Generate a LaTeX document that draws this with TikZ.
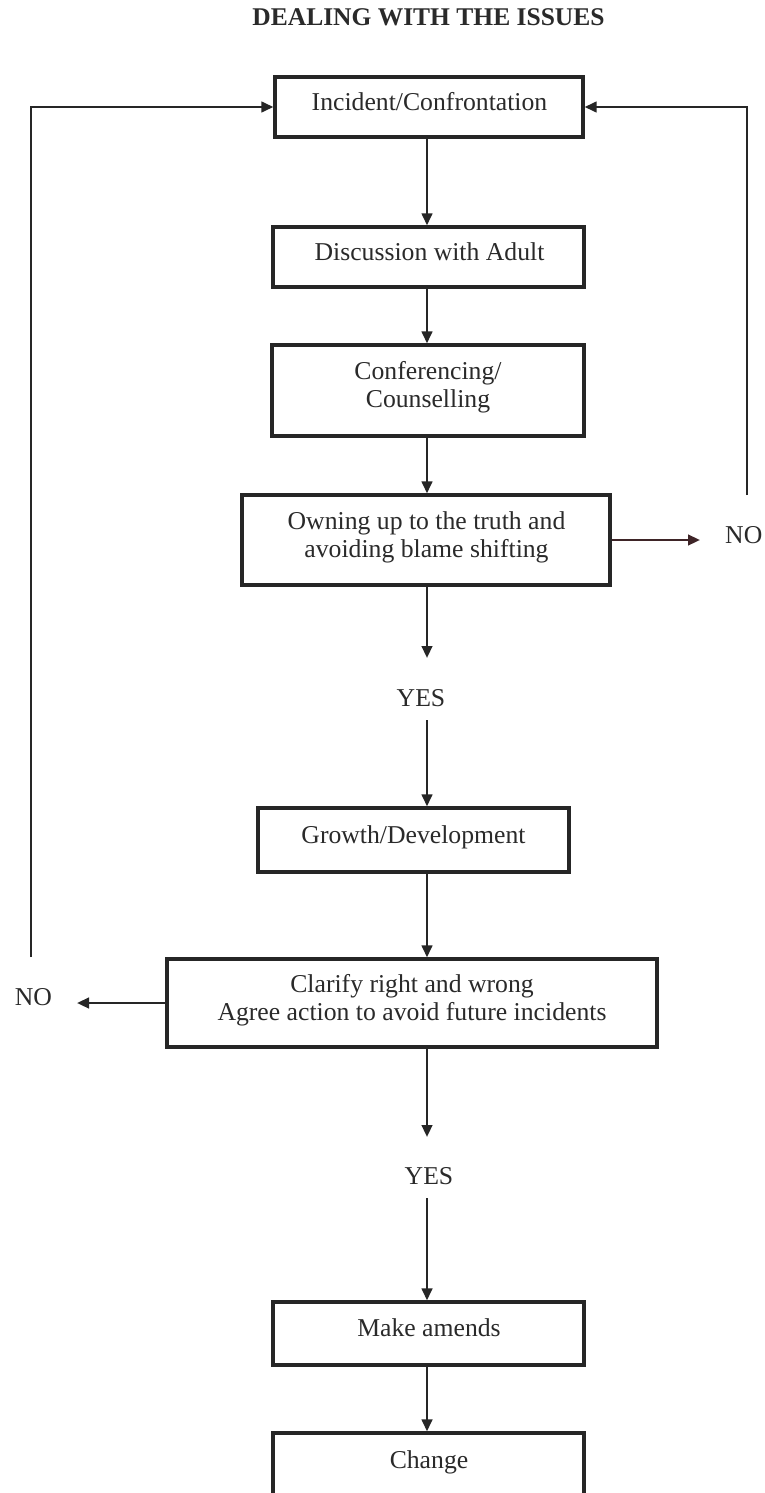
\documentclass[tikz,border=0pt]{standalone}
\usepackage{fontspec}
\setmainfont{Liberation Serif}
\usetikzlibrary{arrows.meta}
\definecolor{ink}{HTML}{2A2A2A}
\definecolor{linec}{HTML}{262626}
\definecolor{redline}{HTML}{3E2427}
\begin{document}
\begin{tikzpicture}[x=1pt,y=-1pt,
  boxst/.style={draw=linec, line width=3.2pt, inner sep=0pt, fill=white},
  txt/.style={text=ink, inner sep=0pt, anchor=base, font=\fontsize{25.7}{28.5}\selectfont},
  conn/.style={draw=linec, line width=2.6pt},
  arr/.style={conn, -{Triangle[length=12pt,width=10.5pt]}}]
\useasboundingbox (0,0) rectangle (765,1493);
\clip (0,0) rectangle (765,1493);
\fill[white] (0,0) rectangle (765,1493);

% title
\node[text=ink, inner sep=0pt, anchor=base, font=\bfseries\fontsize{25.5}{28}\selectfont] (title) at (428.5,26) {DEALING WITH THE ISSUES};

% boxes
\node[boxst, minimum width=308pt, minimum height=60pt] (b1) at (429,107) {};
\node[boxst, minimum width=311pt, minimum height=60pt] (b2) at (428.5,257) {};
\node[boxst, minimum width=312pt, minimum height=91pt] (b3) at (428,390.5) {};
\node[boxst, minimum width=368pt, minimum height=90pt] (b4) at (426,540) {};
\node[boxst, minimum width=311pt, minimum height=64pt] (b6) at (413.5,840) {};
\node[boxst, minimum width=490pt, minimum height=88pt] (b7) at (412,1003) {};
\node[boxst, minimum width=311pt, minimum height=63pt] (b9) at (428.5,1333.5) {};
\node[boxst, minimum width=311pt, minimum height=70pt] (b10) at (428.5,1468) {};

% texts
\node[txt] (t1) at (429.5,111) {Incident/Confrontation};
\node[txt] (t2) at (429.5,260) {Discussion with Adult};
\node[txt] (t3) at (428,379) {\begin{tabular}[t]{@{}c@{}}Conferencing/\\Counselling\end{tabular}};
\node[txt] (t4) at (426.5,529) {\begin{tabular}[t]{@{}c@{}}Owning up to the truth and\\avoiding blame shifting\end{tabular}};
\node[txt] (yes1) at (421,706) {YES};
\node[txt] (t6) at (413.5,843) {Growth/Development};
\node[txt] (t7) at (412,992) {\begin{tabular}[t]{@{}c@{}}Clarify right and wrong\\Agree action to avoid future incidents\end{tabular}};
\node[txt] (yes2) at (429,1184) {YES};
\node[txt] (t9) at (429,1336) {Make amends};
\node[txt] (t10) at (429,1468) {Change};
\node[txt, anchor=base west] (noR) at (725,543) {NO};
\node[txt] (noL) at (33.5,1005) {NO};

% connector helper coordinates
\coordinate (col) at (427,0);
\coordinate (y1top) at (427,658);
\coordinate (y1bot) at (427,720);
\coordinate (y2top) at (427,1137);
\coordinate (y2bot) at (427,1198);
\coordinate (nrtip) at (700,540);
\coordinate (rtop) at (747,495);
\coordinate (nltip) at (77,1003);
\coordinate (lbot) at (31,957);

% main column
\draw[arr] (b1.south -| col) -- (b2.north -| col);
\draw[arr] (b2.south -| col) -- (b3.north -| col);
\draw[arr] (b3.south -| col) -- (b4.north -| col);
\draw[arr] (b4.south -| col) -- (y1top);
\draw[arr] (y1bot) -- (b6.north -| col);
\draw[arr] (b6.south -| col) -- (b7.north -| col);
\draw[arr] (b7.south -| col) -- (y2top);
\draw[arr] (y2bot) -- (b9.north -| col);
\draw[arr] (b9.south -| col) -- (b10.north -| col);

% NO branches
\draw[arr, draw=redline] (b4.east) -- (nrtip);
\draw[arr] (rtop) |- (b1.east);
\draw[arr] (b7.west) -- (nltip);
\draw[arr] (lbot) |- (b1.west);
\end{tikzpicture}
\end{document}
